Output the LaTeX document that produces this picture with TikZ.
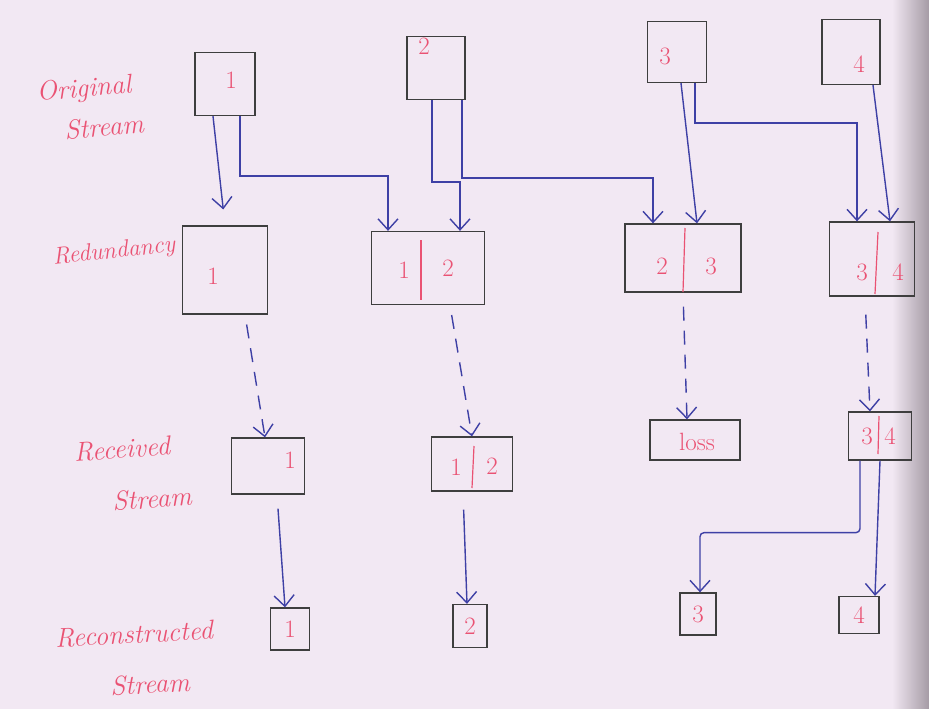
\documentclass[tikz,border=0pt]{standalone}
\usetikzlibrary{arrows.meta,calc}
\definecolor{paper}{RGB}{242,232,243}
\definecolor{edge}{RGB}{165,155,165}
\definecolor{ink}{RGB}{62,62,62}
\definecolor{pen}{RGB}{62,64,165}
\definecolor{marker}{RGB}{234,82,115}
\begin{document}
\begin{tikzpicture}[x=1pt,y=-1pt,
  box/.style={draw=ink, line width=1.3pt, inner sep=0pt},
  digit/.style={text=marker, font=\fontsize{25}{27}\selectfont, inner sep=0pt},
  lbl/.style={text=marker, font=\itshape\fontsize{27}{29}\selectfont, inner sep=0pt},
  flow/.style={draw=pen, line width=1.4pt, -{Straight Barb[length=11pt,width=20pt,line width=1.4pt]}},
  dflow/.style={flow, dash pattern=on 14pt off 10pt},
  divider/.style={draw=marker, line width=1.2pt},
]
% paper
\fill[paper] (0,0) rectangle (929,709);
\shade[left color=paper, right color=edge] (892,0) rectangle (929,709);
\useasboundingbox (0,0) rectangle (929,709);

% row labels
\node[lbl, rotate=5] (lorig) at (84,90) {Original};
\node[lbl, rotate=5] (lorig2) at (104,127) {Stream};
\node[lbl, rotate=6, font=\itshape\fontsize{24}{26}\selectfont] (lred) at (114,252) {Redundancy};
\node[lbl, rotate=4] (lrec) at (122,449) {Received};
\node[lbl, rotate=4] (lrec2) at (152,499) {Stream};
\node[lbl, rotate=3] (lcon) at (134,634) {Reconstructed};
\node[lbl, rotate=3] (lcon2) at (150,684) {Stream};

% original stream
\node[box, minimum width=60pt, minimum height=63pt] (o1) at (225,84) {};
\node[box, minimum width=58pt, minimum height=63pt] (o2) at (436,68) {};
\node[box, minimum width=59pt, minimum height=61pt] (o3) at (677,52) {};
\node[box, minimum width=58pt, minimum height=65pt] (o4) at (851,52) {};
\node[digit] (d1) at (231,80) {1};
\node[digit] (d2) at (424,46) {2};
\node[digit] (d3) at (665,56) {3};
\node[digit] (d4) at (859,64) {4};

% redundancy
\node[box, minimum width=85pt, minimum height=88pt] (r1) at (225,270) {};
\node[box, minimum width=113pt, minimum height=73pt] (r12) at (428,268) {};
\node[box, minimum width=116pt, minimum height=68pt] (r23) at (683,258) {};
\node[box, minimum width=85pt, minimum height=74pt] (r34) at (872,259) {};
\node[digit] (r1a) at (213,276) {1};
\node[digit] (r12a) at (404,270) {1};
\node[digit] (r12b) at (448,268) {2};
\node[digit] (r23a) at (662,266) {2};
\node[digit] (r23b) at (711,266) {3};
\node[digit] (r34a) at (862,272) {3};
\node[digit] (r34b) at (898,272) {4};
\draw[divider] (421,240) -- (421,300);
\draw[divider] (685,228) -- (683,292);
\draw[divider] (878,232) -- (875,294);

% received stream
\node[box, minimum width=73pt, minimum height=56pt] (c1) at (268,466) {};
\node[box, minimum width=81pt, minimum height=54pt] (c12) at (472,464) {};
\node[box, minimum width=90pt, minimum height=40pt] (loss) at (695,440) {};
\node[box, minimum width=63pt, minimum height=48pt] (c34) at (880,436) {};
\node[digit] (c1a) at (290,460) {1};
\node[digit] (c12a) at (456,467) {1};
\node[digit] (c12b) at (492,466) {2};
\node[digit] (lossa) at (697,442) {loss};
\node[digit] (c34a) at (867,436) {3};
\node[digit] (c34b) at (890,436) {4};
\draw[divider] (474,446) -- (472,488);
\draw[divider] (879,416) -- (878,454);

% reconstructed stream
\node[box, minimum width=39pt, minimum height=42pt] (f1) at (290,629) {};
\node[box, minimum width=34pt, minimum height=43pt] (f2) at (470,626) {};
\node[box, minimum width=36pt, minimum height=42pt] (f3) at (698,614) {};
\node[box, minimum width=40pt, minimum height=37pt] (f4) at (859,615) {};
\node[digit] (f1a) at (f1) {1};
\node[digit] (f2a) at (f2) {2};
\node[digit] (f3a) at (f3) {3};
\node[digit] (f4a) at (f4) {4};

% packets copied into the redundant pairs
\draw[flow, shorten >=16pt] ([xshift=-12pt]o1.south) -- (r1.north);
\draw[flow] ([xshift=15pt]o1.south) -- ++(0,60) -| ([xshift=-40pt]r12.north);
\draw[flow] ([xshift=-4pt]o2.south) -- ++(0,82) -| ([xshift=32pt]r12.north);
\draw[flow] ([xshift=26pt]o2.south) -- ++(0,78) -| ([xshift=-30pt]r23.north);
\draw[flow] ([xshift=4pt]o3.south) -- ([xshift=14pt]r23.north);
\draw[flow] ([xshift=18pt]o3.south) -- ++(0,40) -| ([xshift=-15pt]r34.north);
\draw[flow] ([xshift=22pt]o4.south) -- ([xshift=18pt]r34.north);

% transmission
\draw[dflow, shorten <=10pt] ([xshift=20pt]r1.south) -- ([xshift=-3pt]c1.north);
\draw[dflow, shorten <=10pt] ([xshift=22pt]r12.south) -- (c12.north);
\draw[dflow, shorten <=14pt] (r23.south) -- ([xshift=-8pt]loss.north);
\draw[dflow, shorten <=18pt] ([xshift=-7pt]r34.south) -- ([xshift=-10pt]c34.north);

% reconstruction
\draw[flow, shorten <=14pt] ([xshift=9pt]c1.south) -- ([xshift=-5pt]f1.north);
\draw[flow, shorten <=18pt] ([xshift=-9pt]c12.south) -- ([xshift=-3pt]f2.north);
\draw[flow, rounded corners=4pt] ([xshift=-20pt]c34.south) -- ++(0,72) -| ([xshift=2pt]f3.north);
\draw[flow] (c34.south) -- ([xshift=16pt]f4.north);
\end{tikzpicture}
\end{document}
